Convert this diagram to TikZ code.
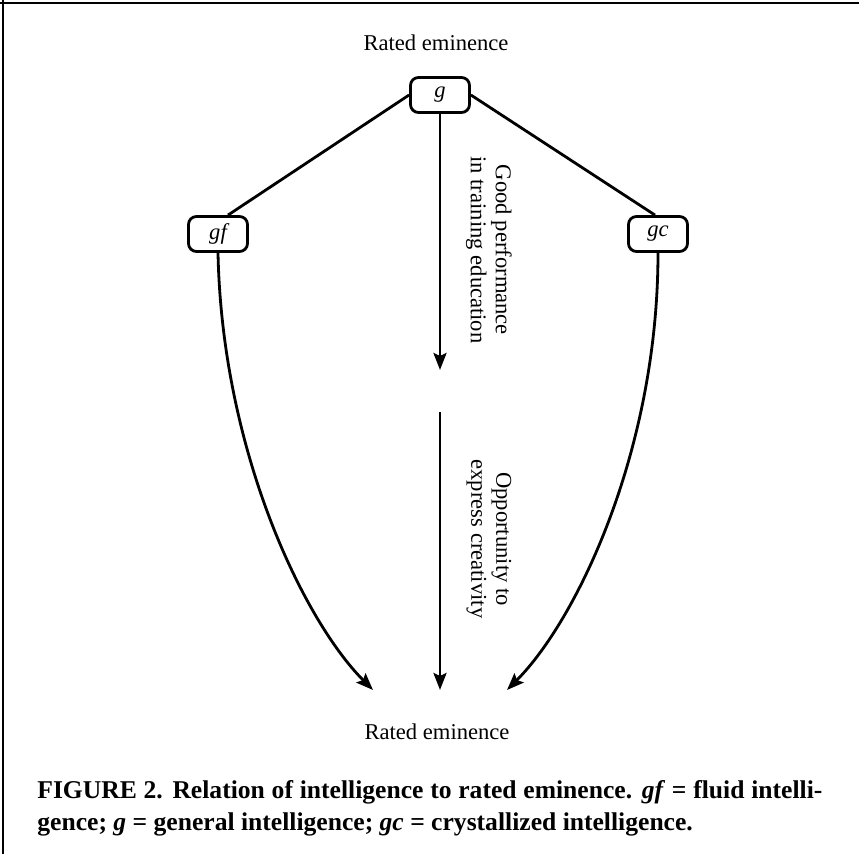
\documentclass[tikz,border=0pt]{standalone}
\usepackage{fontspec}
\setmainfont{Liberation Serif}
\usetikzlibrary{arrows.meta,calc}
\tikzset{
  lw/.style={line width=1.4pt},
  boxnode/.style={draw,lw,rounded corners=4pt,minimum width=29.5pt,minimum height=17.5pt,inner sep=0pt,font=\fontsize{11.3pt}{12.5pt}\selectfont\itshape},
  lab/.style={font=\fontsize{11.3pt}{12.5pt}\selectfont,inner sep=0pt},
  rot/.style={lab,rotate=-90,align=center},
  arr/.style={lw,-{Stealth[length=8.5pt,width=6.5pt,inset=1.5pt]}},
  conn/.style={lw},
}
\begin{document}
\begin{tikzpicture}[x=0.5pt,y=-0.5pt]
\useasboundingbox (0,0) rectangle (859,854);
% frame (top and left edges)
\draw[lw] (0,3) -- (859,3);
\draw[lw] (3,0) -- (3,854);
% labels
\node[lab] (top) at (436,43) {Rated eminence};
\node[lab] (bot) at (437,732) {Rated eminence};
% boxes
\node[boxnode] (g) at (440,95) {g};
\node[boxnode] (gf) at (218,234) {gf};
\node[boxnode] (gc) at (658,234) {gc};
% coordinates
\coordinate (a1) at (440,370);
\coordinate (b0) at (440,412);
\coordinate (b1) at (440,690);
\coordinate (tl) at (373,690);
\coordinate (tr) at (507,690);
% connectors
\draw[conn] (g.west) -- ([xshift=5pt]gf.north);
\draw[conn] (g.east) -- ([xshift=-1.5pt]gc.north);
\draw[arr] (g.south) -- (a1);
\draw[arr] (b0) -- (b1);
\draw[arr] (gf.south) .. controls (222,450) and (303,620) .. (tl);
\draw[arr] (gc.south) .. controls (658,450) and (577,620) .. (tr);
% rotated texts
\node[rot] (t1) at (489,250) {Good performance\\in training education};
\node[rot] (t2) at (489,539) {Opportunity to\\express creativity};
% caption
\node[anchor=north west,text width=392.5pt,align=justify,inner sep=0pt,
      font=\fontsize{12.8pt}{15.8pt}\selectfont\bfseries] (cap) at (37,780)
  {\hyphenpenalty=10000\tolerance=10000 FIGURE 2. Relation of intelligence to rated eminence. \textit{gf} = fluid intelli-\linebreak gence; \textit{g} = general intelligence; \textit{gc} = crystallized intelligence.};
\end{tikzpicture}
\end{document}
